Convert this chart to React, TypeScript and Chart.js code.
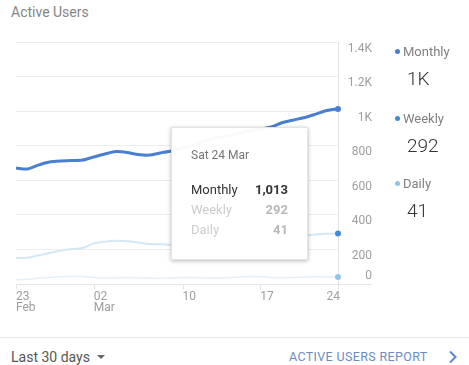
import React, { useEffect, useRef } from "react";
import { Chart, registerables } from "chart.js";

Chart.register(...registerables);

const categories = [
  "23 Feb", "24 Feb", "25 Feb", "26 Feb", "27 Feb", "28 Feb",
  "01 Mar", "02 Mar", "03 Mar", "04 Mar", "05 Mar", "06 Mar", "07 Mar", "08 Mar", "09 Mar",
  "10 Mar", "11 Mar", "12 Mar", "13 Mar", "14 Mar", "15 Mar", "16 Mar", "17 Mar",
  "18 Mar", "19 Mar", "20 Mar", "21 Mar", "22 Mar", "23 Mar", "24 Mar",
];
const monthly = [671, 665, 688, 706, 712, 714, 717, 735, 752, 766, 761, 749, 746, 758, 769, 787, 804, 827, 845, 856, 868, 885, 897, 908, 934, 949, 963, 983, 1004, 1013];
const weekly = [150, 152, 165, 179, 192, 202, 208, 235, 245, 250, 248, 240, 232, 230, 226, 228, 232, 236, 242, 248, 254, 260, 265, 268, 272, 274, 280, 286, 290, 292];
const daily = [24, 28, 33, 38, 42, 45, 43, 38, 35, 36, 38, 36, 34, 33, 35, 37, 38, 36, 34, 36, 40, 44, 42, 38, 36, 38, 40, 42, 40, 41];

const seriesNames = ["Monthly", "Weekly", "Daily"];
const legendValues = ["1K", "292", "41"];
const yTickValues = [0, 200, 400, 600, 800, 1000, 1200, 1400];
const yTickLabels = ["0", "200", "400", "600", "800", "1K", "1.2K", "1.4K"];
const xTickIndex = [0, 7, 15, 22, 29];
const xTickLines = [["23", "Feb"], ["02", "Mar"], ["10"], ["17"], ["24"]];
const tooltipTitle = "Sat 24 Mar";

const lineColors = ["#4a7ed1", "#d3e8f6", "#e4f0f8"];
const dotColors = ["#4a7ed1", "#3f8bd8", "#8fc6e6"];

const FONT = "Roboto, 'Noto Sans', sans-serif";

const gaPlugin = {
  id: "gaAxes",
  beforeDatasetsDraw(chart: any) {
    const { ctx, chartArea, scales } = chart;
    const x = scales.x;
    const y = scales.y;
    ctx.save();
    ctx.strokeStyle = "#e4e4e4";
    ctx.lineWidth = 1;
    const y0 = Math.round(y.getPixelForValue(0)) + 0.5;
    ctx.beginPath();
    ctx.moveTo(chartArea.left, y0);
    ctx.lineTo(372, y0);
    ctx.stroke();
    const xr = Math.round(x.getPixelForValue(categories.length - 1)) + 0.5;
    ctx.beginPath();
    ctx.moveTo(xr, chartArea.top);
    ctx.lineTo(xr, y0 + 6);
    ctx.stroke();
    xTickIndex.forEach((idx) => {
      const px = Math.round(x.getPixelForValue(idx)) + 0.5;
      ctx.beginPath();
      ctx.moveTo(px, y0);
      ctx.lineTo(px, y0 + 5);
      ctx.stroke();
    });
    ctx.restore();
  },
  afterDraw(chart: any) {
    const { ctx, scales } = chart;
    const x = scales.x;
    const y = scales.y;
    ctx.save();
    ctx.font = `12px ${FONT}`;
    ctx.fillStyle = "#9e9e9e";
    ctx.textAlign = "right";
    ctx.textBaseline = "middle";
    yTickValues.forEach((v, i) => {
      const py = y.getPixelForValue(v);
      ctx.fillText(yTickLabels[i], 372, v === 0 ? py - 8 : py + 6.5);
    });
    const y0 = y.getPixelForValue(0);
    xTickIndex.forEach((idx, i) => {
      const px = x.getPixelForValue(idx);
      const last = i === xTickIndex.length - 1;
      ctx.textAlign = last ? "right" : "left";
      xTickLines[i].forEach((line, j) => {
        ctx.fillText(line, last ? px + 2 : px, y0 + 12.5 + j * 11.5);
      });
    });
    ctx.restore();
  },
};

export default function App() {
  const canvasRef = useRef<HTMLCanvasElement | null>(null);

  useEffect(() => {
    if (!canvasRef.current) return;
    const last = categories.length - 1;
    const series = [monthly, weekly, daily];
    const widths = [3, 2, 1.5];
    const radii = [3, 3, 3];
    const chart = new Chart(canvasRef.current, {
      type: "line",
      data: {
        labels: categories,
        datasets: series.map((data, i) => ({
          label: seriesNames[i],
          data,
          borderColor: lineColors[i],
          borderWidth: widths[i],
          backgroundColor: dotColors[i],
          pointBackgroundColor: dotColors[i],
          pointBorderWidth: 0,
          pointRadius: (c: any) => (c.dataIndex === last ? radii[i] : 0),
          tension: 0.25,
          fill: false,
        })),
      },
      options: {
        responsive: false,
        animation: false,
        events: [],
        layout: { padding: { left: 16, top: 42, right: 62, bottom: 36 } },
        plugins: { legend: { display: false }, tooltip: { enabled: false } },
        scales: {
          x: { type: "category", display: false },
          y: {
            position: "right",
            min: 0,
            max: 1400,
            ticks: { display: false, stepSize: 200 },
            grid: { color: "#ececec", drawTicks: false },
            border: { display: false },
          },
        },
      },
      plugins: [gaPlugin],
    });
    return () => chart.destroy();
  }, []);

  const lastIdx = categories.length - 1;
  const tipValues = [monthly[lastIdx], weekly[lastIdx], daily[lastIdx]];
  const tipNameColors = ["#333333", "#cccccc", "#cccccc"];
  const tipValColors = ["#333333", "#b8b8b8", "#b8b8b8"];
  const legendTops = [52, 119, 184];

  return (
    <div
      style={{
        position: "fixed",
        left: 0,
        top: 0,
        width: 469,
        height: 365,
        background: "#fff",
        fontFamily: FONT,
        overflow: "hidden",
      }}
    >
      <div style={{ position: "absolute", left: 11, top: 3, fontSize: 14, color: "#858585", lineHeight: "18px" }}>
        Active Users
      </div>
      <canvas ref={canvasRef} width={400} height={320} style={{ position: "absolute", left: 0, top: 0 }} />

      {seriesNames.map((name, i) => (
        <React.Fragment key={name}>
          <div
            style={{
              position: "absolute",
              left: 395,
              top: legendTops[i] - 9,
              height: 18,
              lineHeight: "18px",
              fontSize: 13,
              color: "#808080",
              whiteSpace: "nowrap",
            }}
          >
            <span
              style={{
                display: "inline-block",
                width: 5,
                height: 5,
                borderRadius: "50%",
                background: dotColors[i],
                verticalAlign: "middle",
                marginRight: 3,
                marginTop: -2,
              }}
            />
            {name}
          </div>
          <div
            style={{
              position: "absolute",
              left: 407,
              top: legendTops[i] + 27 - 12,
              height: 24,
              lineHeight: "24px",
              fontSize: 19,
              fontWeight: 300,
              color: "#333",
            }}
          >
            {legendValues[i]}
          </div>
        </React.Fragment>
      ))}

      <div
        style={{
          position: "absolute",
          left: 171,
          top: 127,
          width: 137,
          height: 133,
          background: "rgba(255,255,255,0.96)",
          boxShadow: "0 1px 4px rgba(0,0,0,0.28)",
          border: "1px solid #e3e3e3",
          boxSizing: "border-box",
        }}
      >
        <div style={{ position: "absolute", left: 19, top: 19, fontSize: 12, color: "#757575", lineHeight: "16px" }}>
          {tooltipTitle}
        </div>
        {seriesNames.map((name, i) => (
          <div
            key={name}
            style={{
              position: "absolute",
              left: 19,
              top: 53 + i * 20,
              width: 97,
              lineHeight: "18px",
              fontSize: 13,
              display: "flex",
              justifyContent: "space-between",
            }}
          >
            <span style={{ color: tipNameColors[i] }}>{name}</span>
            <span style={{ color: tipValColors[i], fontWeight: 700 }}>{tipValues[i].toLocaleString("en-US")}</span>
          </div>
        ))}
      </div>

      <div style={{ position: "absolute", left: 0, top: 337, width: 469, height: 1, background: "#e6e6e6" }} />
      <div style={{ position: "absolute", left: 11, top: 348, fontSize: 14, color: "#555", lineHeight: "18px" }}>
        Last 30 days
        <span
          style={{
            display: "inline-block",
            marginLeft: 7,
            width: 0,
            height: 0,
            borderLeft: "4px solid transparent",
            borderRight: "4px solid transparent",
            borderTop: "4px solid #666",
            verticalAlign: "middle",
            marginTop: -2,
          }}
        />
      </div>
      <div
        style={{
          position: "absolute",
          left: 289,
          top: 348,
          fontSize: 12.5,
          color: "#6b8cc4",
          lineHeight: "18px",
          letterSpacing: 0.35,
          whiteSpace: "nowrap",
        }}
      >
        ACTIVE USERS REPORT
      </div>
      <svg style={{ position: "absolute", left: 448, top: 350 }} width={10} height={14} viewBox="0 0 10 14">
        <polyline points="2,1.5 7.5,7 2,12.5" fill="none" stroke="#5b8ad4" strokeWidth={2} />
      </svg>
    </div>
  );
}
